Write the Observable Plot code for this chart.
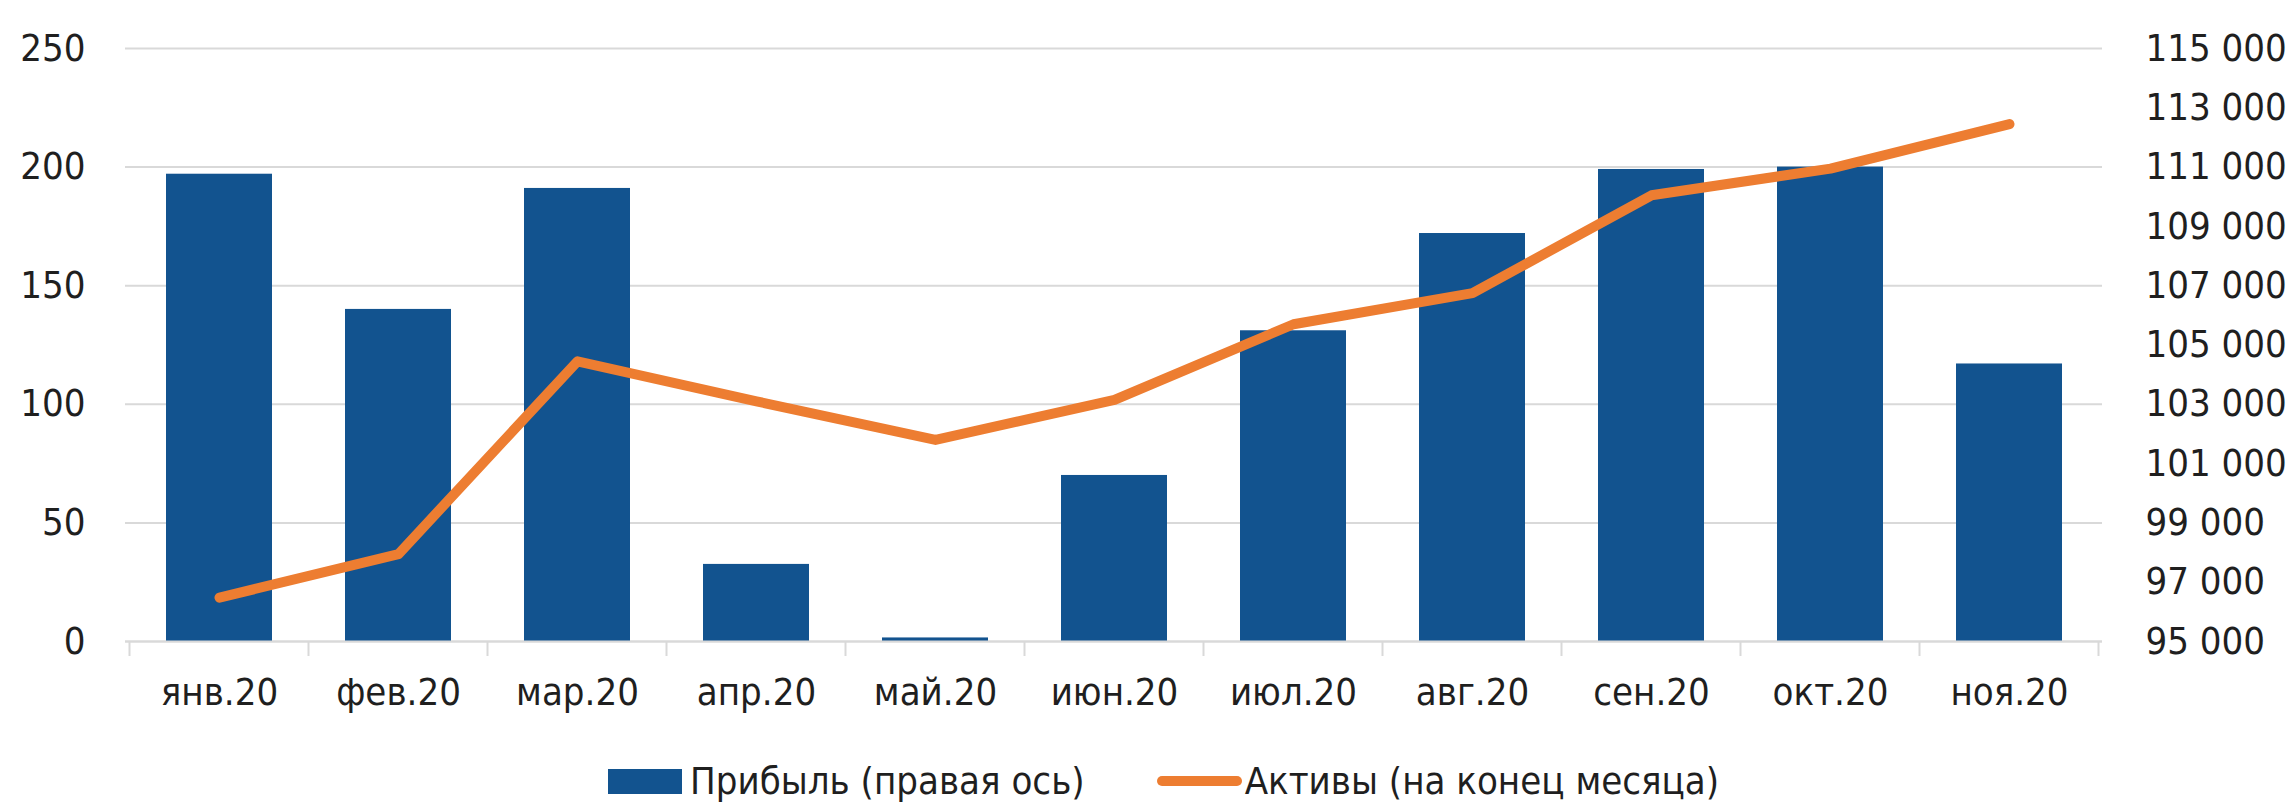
<!DOCTYPE html>
<html>
<head>
<meta charset="utf-8">
<script src="https://cdn.jsdelivr.net/npm/d3@7"></script>
<script src="https://cdn.jsdelivr.net/npm/@observablehq/plot@0.6"></script>
<style>
  html, body { margin: 0; padding: 0; background: #fff; }
  body { width: 2296px; height: 807px; overflow: hidden; font-family: "DejaVu Sans Condensed", "DejaVu Sans", sans-serif; }
  #legend { position: relative; height: 52px; display: flex; align-items: center; padding-left: 608px; font-size: 38px; color: #1f1f1f; }
  .item { display: flex; align-items: center; }
  .sw-bar { width: 74px; height: 25px; background: #12538F; margin-right: 8px; }
  .sw-line { width: 85px; height: 10px; border-radius: 5px; background: #ED7D31; margin-right: 3px; }
</style>
</head>
<body>
<div id="chart"></div>
<div id="legend"></div>
<script>
// ---- data ----
const months = ["янв.20", "фев.20", "мар.20", "апр.20", "май.20", "июн.20", "июл.20", "авг.20", "сен.20", "окт.20", "ноя.20"];
const profit = [197, 140, 191, 32.5, 1.5, 70, 131, 172, 199, 200, 117];
const assets = [96480, 97950, 104450, 103100, 101800, 103150, 105700, 106750, 110050, 110950, 112450];
const leftTicks = [0, 50, 100, 150, 200, 250];
const rightTicks = [95000, 97000, 99000, 101000, 103000, 105000, 107000, 109000, 111000, 113000, 115000];
const seriesNames = ["Прибыль (правая ось)", "Активы (на конец месяца)"];

// right-axis domain mapped onto the left (primary) scale
const leftDomain = [0, 250];
const rightDomain = [95000, 115000];
const toLeft = (v) => (v - rightDomain[0]) / (rightDomain[1] - rightDomain[0]) * (leftDomain[1] - leftDomain[0]) + leftDomain[0];
const fromLeft = (v) => (v - leftDomain[0]) / (leftDomain[1] - leftDomain[0]) * (rightDomain[1] - rightDomain[0]) + rightDomain[0];
const fmt = (v) => d3.format(",")(Math.round(v)).replace(/,/g, " ");

const data = months.map((m, i) => ({month: m, profit: profit[i], assets: assets[i]}));

const BLUE = "#12538F", ORANGE = "#ED7D31", GRID = "#d9d9d9";

// category boundary ticks on the x axis, computed from the band scale
const boundaryTicks = (index, scales) => {
  const x = scales.x, y = scales.y;
  const step = x.step(), bw = x.bandwidth();
  const xs = months.map((m) => x(m) + bw / 2 - step / 2);
  xs.push(x(months[months.length - 1]) + bw / 2 + step / 2);
  const y0 = y(0);
  const g = d3.create("svg:g");
  g.selectAll("line").data(xs).join("line")
    .attr("x1", (d) => d).attr("x2", (d) => d)
    .attr("y1", y0).attr("y2", y0 + 15)
    .attr("stroke", GRID).attr("stroke-width", 2);
  return g.node();
};

const chart = Plot.plot({
  width: 2296,
  height: 755,
  marginTop: 48,
  marginBottom: 114,
  marginLeft: 125,
  marginRight: 194,
  style: {fontFamily: "'DejaVu Sans Condensed', 'DejaVu Sans', sans-serif", fontSize: "38px", color: "#1f1f1f", background: "white"},
  x: {domain: months, paddingInner: 0.41, paddingOuter: 0.205, label: null},
  y: {domain: leftDomain, label: null},
  marks: [
    Plot.gridY(leftTicks, {stroke: GRID, strokeOpacity: 1, strokeWidth: 2}),
    Plot.barY(data, {x: "month", y: "profit", fill: BLUE}),
    Plot.ruleY([0], {stroke: GRID, strokeWidth: 2}),
    boundaryTicks,
    Plot.line(data, {x: "month", y: (d) => toLeft(d.assets), stroke: ORANGE, strokeWidth: 10, strokeLinecap: "round", strokeLinejoin: "round"}),
    Plot.axisY(leftTicks, {anchor: "left", tickSize: 0, tickPadding: 40, label: null}),
    Plot.axisY(rightTicks.map(toLeft), {anchor: "right", tickSize: 0, tickPadding: 43, tickFormat: (d) => fmt(fromLeft(d)), label: null, textAnchor: "start"}),
    Plot.axisX({tickSize: 0, tickPadding: 37, label: null})
  ]
});
document.getElementById("chart").appendChild(chart);

const legend = document.getElementById("legend");
legend.innerHTML = `
  <div class="item"><div class="sw-bar"></div><span>${seriesNames[0]}</span></div>
  <div class="item" style="margin-left:72px"><div class="sw-line"></div><span>${seriesNames[1]}</span></div>`;
</script>
</body>
</html>
